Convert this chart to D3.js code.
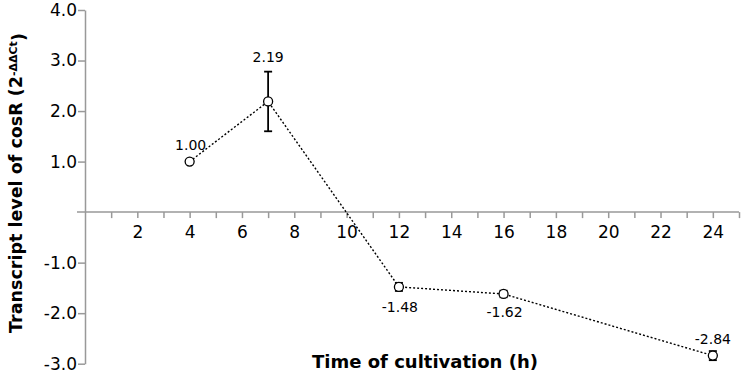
<!DOCTYPE html>
<html>
<head>
<meta charset="utf-8">
<script src="https://cdn.jsdelivr.net/npm/d3@7"></script>
<style>
  body { margin: 0; background: #fff; }
  text { font-family: "DejaVu Sans", sans-serif; }
</style>
</head>
<body>
<div id="chart"></div>
<script>
// time points (h) and transcript levels
var hours = [4, 7, 12, 16, 24];
var levels = [1.00, 2.19, -1.48, -1.62, -2.84];
var errs = [0.02, 0.59, 0.08, 0.065, 0.09];
var labels = ["1.00", "2.19", "-1.48", "-1.62", "-2.84"];
var yTicks = [-3, -2, -1, 1, 2, 3, 4];

var w = 743, h = 374;
var x = d3.scaleLinear().domain([0, 25]).range([85, 739]);
var y = d3.scaleLinear().domain([-3, 4]).range([363.7, 10]);

var svg = d3.select("#chart").append("svg")
  .attr("width", w).attr("height", h);

var grey = "#999";

// x axis at zero
var xAxis = svg.append("g")
  .attr("transform", "translate(0," + y(0) + ")")
  .call(d3.axisBottom(x).tickValues(d3.range(1, 26)).tickSize(6)
    .tickFormat(function(d) { return d % 2 === 0 ? d : ""; }));
xAxis.select(".domain").remove();
xAxis.append("line").attr("x1", 77).attr("x2", 739).attr("stroke", grey).attr("stroke-width", 1.5);
xAxis.selectAll(".tick line").attr("stroke", grey).attr("stroke-width", 1.5);
xAxis.selectAll(".tick text").attr("fill", "#000").style("font-size", "17px").attr("dy", "1.0em");

// y axis
var yAxis = svg.append("g")
  .attr("transform", "translate(" + x(0) + ",0)")
  .call(d3.axisLeft(y).tickValues(yTicks).tickSize(7).tickSizeOuter(0)
    .tickFormat(function(d) { return d.toFixed(1); }));
yAxis.select(".domain").attr("stroke", grey).attr("stroke-width", 1.5);
yAxis.selectAll(".tick line").attr("stroke", grey).attr("stroke-width", 1.5);
yAxis.selectAll(".tick text").attr("fill", "#000").style("font-size", "17px").attr("x", -8);

var pts = hours.map(function(t, i) { return {t: t, v: levels[i], e: errs[i], l: labels[i]}; });

// dotted line
svg.append("path")
  .datum(pts)
  .attr("fill", "none")
  .attr("stroke", "#000")
  .attr("stroke-width", 1.4)
  .attr("stroke-dasharray", "2,2")
  .attr("d", d3.line().x(function(d) { return x(d.t); }).y(function(d) { return y(d.v); }));

// error bars
var eb = svg.selectAll(".err").data(pts).enter().append("g").attr("stroke", "#000").attr("stroke-width", 1.8);
eb.append("line")
  .attr("x1", function(d) { return x(d.t); }).attr("x2", function(d) { return x(d.t); })
  .attr("y1", function(d) { return y(d.v + d.e); }).attr("y2", function(d) { return y(d.v - d.e); });
eb.append("line")
  .attr("x1", function(d) { return x(d.t) - 4; }).attr("x2", function(d) { return x(d.t) + 4; })
  .attr("y1", function(d) { return y(d.v + d.e); }).attr("y2", function(d) { return y(d.v + d.e); });
eb.append("line")
  .attr("x1", function(d) { return x(d.t) - 4; }).attr("x2", function(d) { return x(d.t) + 4; })
  .attr("y1", function(d) { return y(d.v - d.e); }).attr("y2", function(d) { return y(d.v - d.e); });

// markers
svg.selectAll(".pt").data(pts).enter().append("circle")
  .attr("cx", function(d) { return x(d.t); })
  .attr("cy", function(d) { return y(d.v); })
  .attr("r", 4.5)
  .attr("fill", "#fff")
  .attr("stroke", "#000")
  .attr("stroke-width", 1.3);

// value labels
var offs = [[1, -16], [0, -44], [1, 20], [1, 18], [0, -17]];
svg.selectAll(".lbl").data(pts).enter().append("text")
  .attr("x", function(d, i) { return x(d.t) + offs[i][0]; })
  .attr("y", function(d, i) { return y(d.v) + offs[i][1]; })
  .attr("text-anchor", "middle")
  .attr("dy", "0.35em")
  .style("font-size", "14px")
  .text(function(d) { return d.l; });

// x title
svg.append("text")
  .attr("x", 425).attr("y", 368)
  .attr("text-anchor", "middle")
  .style("font-size", "18px").style("font-weight", "bold")
  .text("Time of cultivation (h)");

// y title
var yt = svg.append("text")
  .attr("transform", "translate(22,183)rotate(-90)")
  .attr("text-anchor", "middle")
  .style("font-size", "17.5px").style("font-weight", "bold");
yt.append("tspan").text("Transcript level of cosR (2");
yt.append("tspan").attr("dy", "-0.5em").style("font-size", "11px").text("-ΔΔCt");
yt.append("tspan").attr("dy", "0.5em").text(")");
</script>
</body>
</html>
